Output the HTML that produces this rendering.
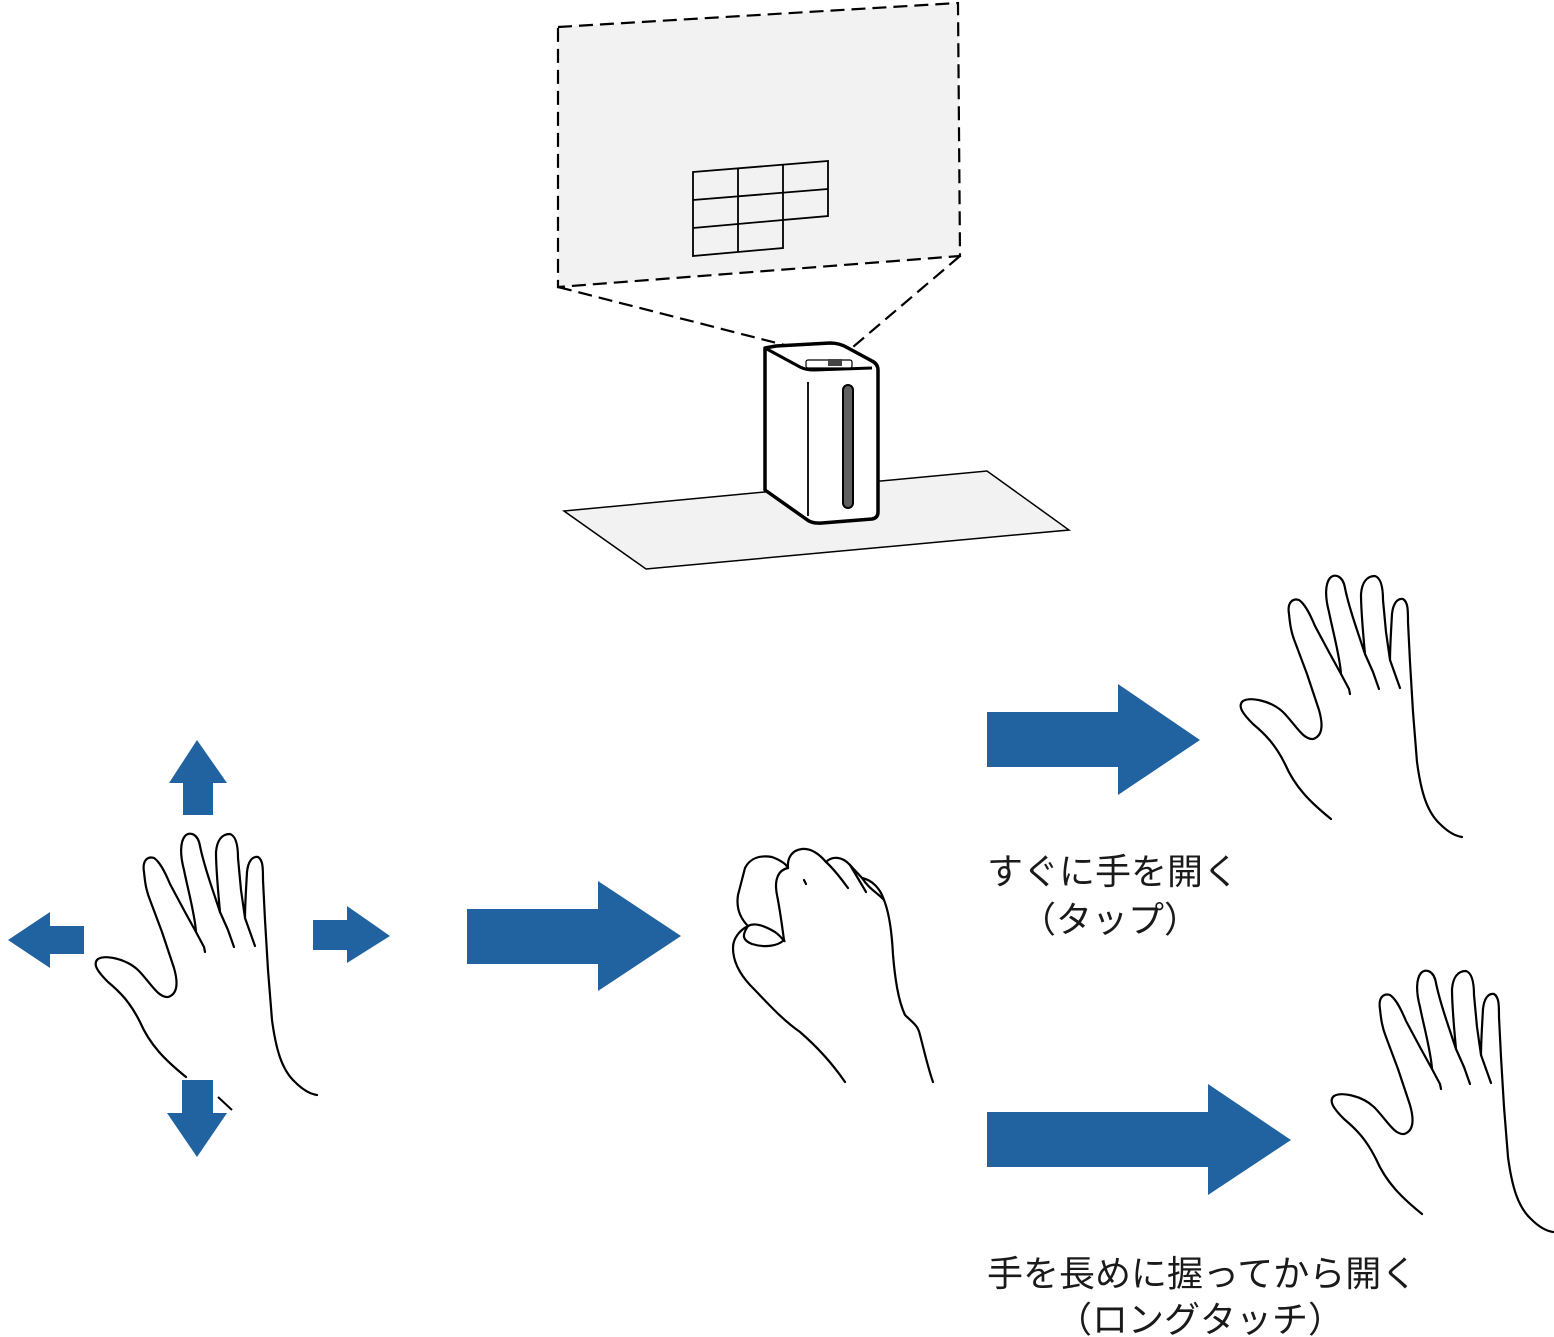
<!DOCTYPE html>
<html><head><meta charset="utf-8"><style>
html,body{margin:0;padding:0;background:#fff;}
svg{display:block}
text{font-family:"Liberation Sans","Noto Sans CJK JP",sans-serif;font-size:36px;fill:#1a1a1a}
</style></head><body>
<svg width="1554" height="1337" viewBox="0 0 1554 1337" xmlns="http://www.w3.org/2000/svg">
<defs>
<g id="hand" fill="none" stroke="#000" stroke-width="2.2" stroke-linejoin="round" stroke-linecap="round">
<path d="M186,1077 C165,1060 150,1045 140,1022 C130,1002 120,992 108,982 C98,972 92,964 98,959 C105,955 125,958 138,970 C150,982 158,998 168,997 C178,994 178,982 174,968 L162,932 L150,900 C146,890 145,882 144,872 C142,860 148,856 154,858 C160,862 165,872 170,884 L185,912 L196,932 C195,915 188,890 184,870 C180,855 180,842 185,836 C190,831 198,834 200,846 C202,856 206,870 212,888 L220,912 C218,890 216,870 216,852 C217,840 222,834 230,834 C236,836 238,845 238,858 L241,890 L245,918 C245,905 246,890 247,872 C248,862 252,856 258,857 C263,860 263,868 263,880 L265,920 L268,970 L272,1020 C276,1050 282,1070 295,1082 C303,1090 310,1094 317,1095"/>
<path d="M196,932 L204,947 C205,952 205,952 205,952"/>
<path d="M220,912 L228,930 L234,947"/>
<path d="M245,918 L250,932 L255,946"/>
</g>
</defs>

<polygon points="558,27 958,3 960,256 558,287" fill="#f2f2f2" stroke="#000" stroke-width="2.2" stroke-dasharray="14,7"/>
<line x1="558" y1="287" x2="843" y2="360" stroke="#000" stroke-width="2.2" stroke-dasharray="14,7"/>
<line x1="960" y1="256" x2="840" y2="358" stroke="#000" stroke-width="2.2" stroke-dasharray="14,7"/>
<g fill="none" stroke="#000" stroke-width="1.8">
<polygon points="693,172 828,161 828,216 783,220 783,248 693,256"/>
<line x1="693" y1="200" x2="828" y2="189"/>
<line x1="693" y1="228" x2="783" y2="220"/>
<line x1="738" y1="168" x2="738" y2="252"/>
<line x1="783" y1="165" x2="783" y2="220"/>
</g>

<polygon points="564,511 987,471 1069,530 646,569" fill="#f2f2f2" stroke="#000" stroke-width="1.5"/>
<path d="M765,348 L765,490 L806,519 Q812,524 822,523 L872,519 Q878,518 878,512 L878,370 Q878,364 872,361 L848,348 Q840,343 830,343 L776,346 Z" fill="#fff" stroke="#000" stroke-width="3.5" stroke-linejoin="round"/>
<path d="M765,348 L800,367 Q806,370 814,370 L872,368" fill="none" stroke="#000" stroke-width="3"/>
<line x1="808" y1="382" x2="808" y2="516" stroke="#000" stroke-width="1.8"/>
<rect x="843" y="385" width="10" height="123" rx="5" fill="#606060" stroke="#000" stroke-width="2"/>
<rect x="806" y="360" width="46" height="8" rx="2" fill="#fff" stroke="#000" stroke-width="1.2"/>
<rect x="828" y="359" width="14" height="7" fill="#444"/>

<g fill="#2163a0">
<polygon points="197,740 227,783 213,783 213,815 183,815 183,783 169,783"/>
<polygon points="8,940 50,912 50,926 84,926 84,954 50,954 50,968"/>
<polygon points="390,936 347,906 347,920 313,920 313,950 347,950 347,963"/>
<polygon points="197,1157 227,1113 213,1113 213,1080 182,1080 182,1113 167,1113"/>
<polygon points="681,936 598,881 598,909 467,909 467,964 598,964 598,991"/>
<polygon points="1200,740 1118,684 1118,712 987,712 987,767 1118,767 1118,795"/>
<polygon points="1291,1140 1208,1084 1208,1112 987,1112 987,1167 1208,1167 1208,1195"/>
</g>

<use href="#hand"/>
<path d="M218,1097 L232,1110" stroke="#000" stroke-width="2" fill="none"/>
<use href="#hand" transform="translate(1145,-258)"/>
<use href="#hand" transform="translate(1236,137)"/>

<g fill="none" stroke="#000" stroke-width="2.2" stroke-linejoin="round" stroke-linecap="round">
<path d="M845,1082 C830,1060 815,1045 800,1032 C780,1018 765,1000 750,985 C738,972 733,960 733,948 C733,938 740,930 748,926 C740,918 736,908 738,895 L745,868 C750,858 760,855 772,857 C780,860 786,864 788,868 C787,858 792,850 802,849 C812,848 820,855 826,862 C832,856 842,856 850,865 L862,878 C872,880 880,888 884,900 C890,915 892,935 893,955 C895,978 898,1000 905,1015 C912,1022 918,1025 920,1035 C924,1050 928,1068 933,1082"/>
<path d="M748,926 C755,922 765,926 775,932 C782,937 786,944 784,940 C782,925 780,910 777,895 C774,880 778,870 788,868"/>
<path d="M748,926 C742,935 742,940 752,944 C765,948 778,946 784,940"/>
<path d="M826,862 C835,870 842,880 848,888"/>
<path d="M850,865 C856,875 862,885 866,892"/>
<path d="M804,880 L806,884"/>
<path d="M884,900 C878,893 870,890 862,878"/>
</g>

<text x="987" y="884">すぐに手を開く</text>
<text x="1110" y="932" text-anchor="middle">（タップ）</text>
<text x="987" y="1286">手を長めに握ってから開く</text>
<text x="1200" y="1332" text-anchor="middle">（ロングタッチ）</text>
</svg>
</body></html>
